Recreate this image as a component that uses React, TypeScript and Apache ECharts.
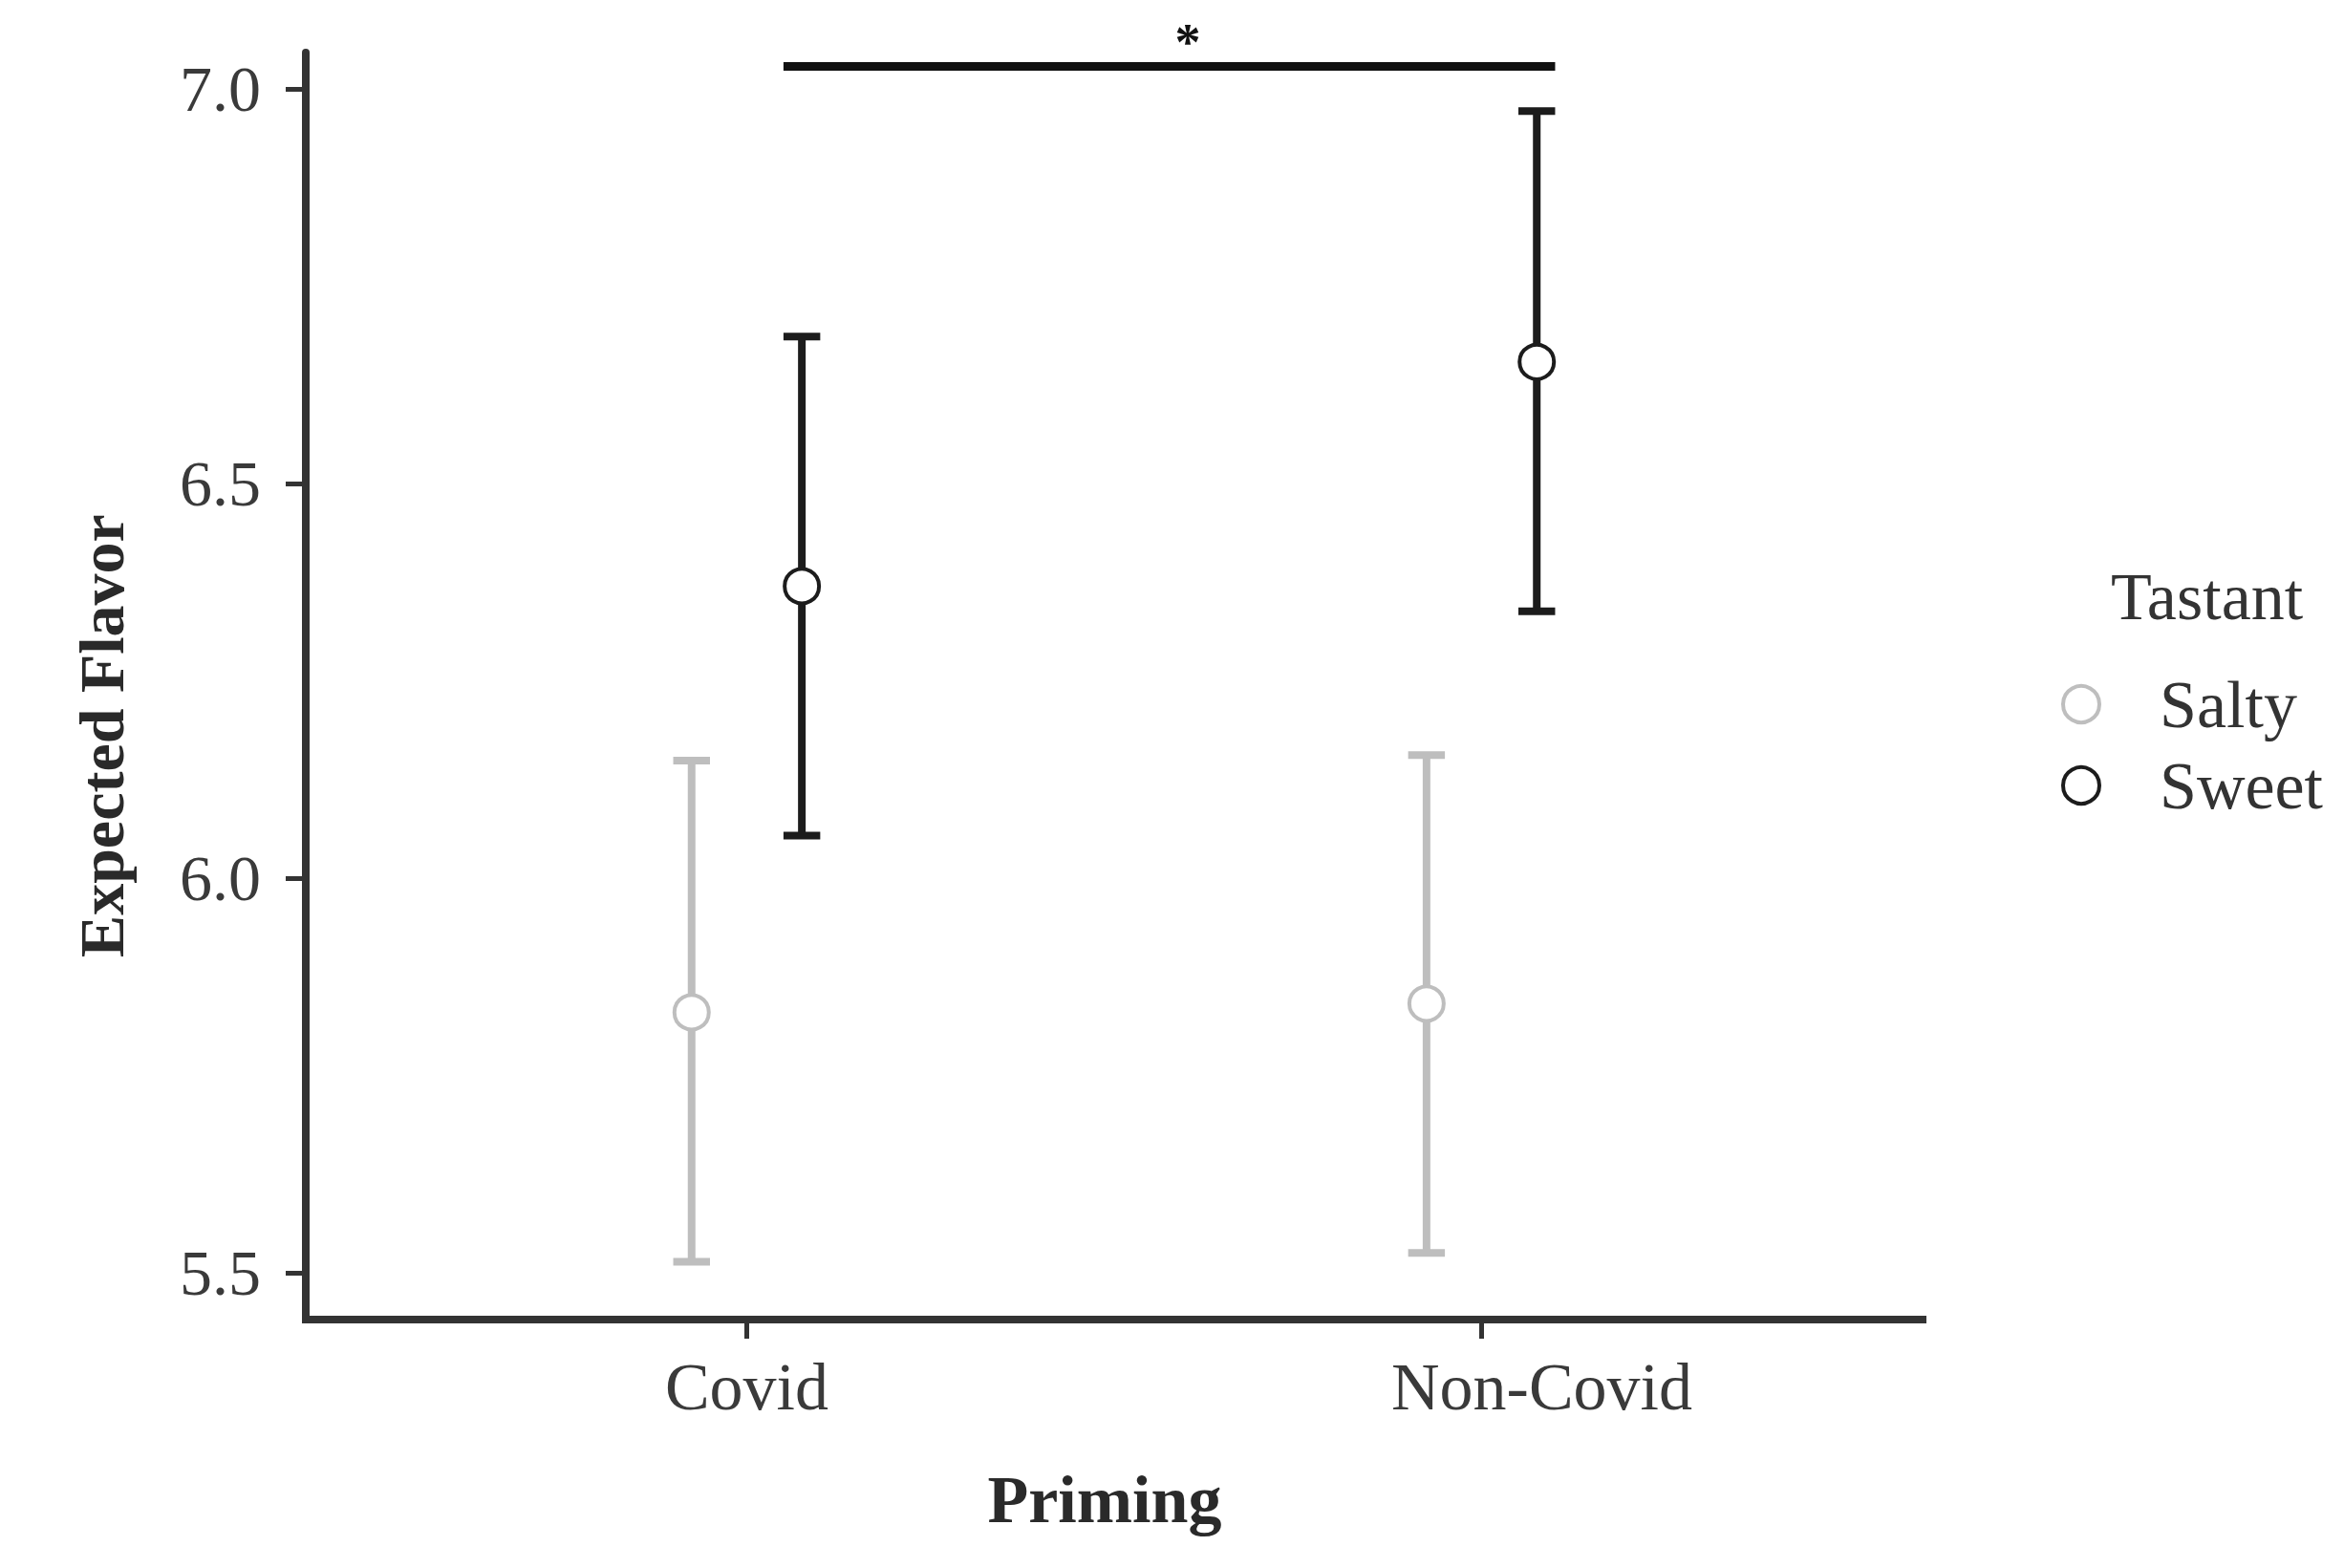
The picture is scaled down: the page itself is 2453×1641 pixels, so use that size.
import React, { useEffect, useRef } from "react";
import * as echarts from "echarts";

const categories = ["Covid", "Non-Covid"];
const tastants = ["Salty", "Sweet"];
const saltyMean = [5.83, 5.841];
const saltyLow = [5.514, 5.525];
const saltyHigh = [6.149, 6.156];
const sweetMean = [6.37, 6.654];
const sweetLow = [6.054, 6.338];
const sweetHigh = [6.686, 6.972];
const yTicks = [5.5, 6.0, 6.5, 7.0];
const sigFrom = 1.05;
const sigTo = 2.1;
const sigValue = 7.0285;
const sigLabel = "*";
const sigLabelAt = 1.6;

const FONT = '"Liberation Serif", "Times New Roman", serif';
const SALTY = "#bebebe";
const SWEET = "#1c1c1c";
const AXIS = "#333333";
const DODGE = 0.075;
const CAP = 0.025;

function errorSeries(name: string, means: number[], lows: number[], highs: number[], offset: number, color: string) {
  return {
    name,
    type: "custom",
    z: 2,
    clip: false,
    encode: { x: 0, y: [1, 2] },
    data: means.map((_, i) => [i + 1 + offset, lows[i], highs[i]]),
    renderItem: (params: any, api: any) => {
      const x = api.value(0);
      const lo = api.value(1);
      const hi = api.value(2);
      const pLo = api.coord([x, lo]);
      const pHi = api.coord([x, hi]);
      const l = api.coord([x - CAP, lo])[0];
      const r = api.coord([x + CAP, lo])[0];
      const st = { stroke: color, lineWidth: 8, lineCap: "butt" };
      return {
        type: "group",
        children: [
          { type: "line", shape: { x1: pLo[0], y1: pLo[1], x2: pHi[0], y2: pHi[1] }, style: st },
          { type: "line", shape: { x1: l, y1: pHi[1], x2: r, y2: pHi[1] }, style: st },
          { type: "line", shape: { x1: l, y1: pLo[1], x2: r, y2: pLo[1] }, style: st },
        ],
      };
    },
  };
}

function pointSeries(name: string, means: number[], offset: number, color: string) {
  return {
    name,
    type: "scatter",
    z: 3,
    symbol: "circle",
    symbolSize: 36,
    itemStyle: { color: "#ffffff", borderColor: color, borderWidth: 4, opacity: 1 },
    data: means.map((m, i) => [i + 1 + offset, m]),
  };
}

export default function App() {
  const ref = useRef<HTMLDivElement>(null);
  useEffect(() => {
    if (!ref.current) return;
    const chart = echarts.init(ref.current, undefined, { renderer: "svg" });
    const option: any = {
      animation: false,
      backgroundColor: "#ffffff",
      grid: { left: 320, right: 441, top: 55, bottom: 260, containLabel: false },
      xAxis: {
        type: "value",
        min: 0.4,
        max: 2.6,
        splitLine: { show: false },
        axisLine: { show: true, lineStyle: { color: AXIS, width: 8, cap: "square" } },
        axisTick: { show: true, length: 20, lineStyle: { color: AXIS, width: 5 }, customValues: [1, 2] },
        axisLabel: {
          customValues: [1, 2],
          formatter: (v: number) => {
            const i = Math.round(v) - 1;
            const name = categories[i] ?? "";
            return i === 1 ? "{shift|" + name + "}" : "{plain|" + name + "}";
          },
          margin: 35,
          fontFamily: FONT,
          fontSize: 70,
          lineHeight: 70,
          color: "#3a3a3a",
          rich: {
            plain: { fontFamily: FONT, fontSize: 70, lineHeight: 70, color: "#3a3a3a" },
            shift: { fontFamily: FONT, fontSize: 70, lineHeight: 70, color: "#3a3a3a", padding: [0, 0, 0, 126] },
          },
        },
      },
      yAxis: {
        type: "value",
        min: 5.4407,
        max: 7.046,
        splitLine: { show: false },
        axisLine: { show: true, lineStyle: { color: AXIS, width: 8 } },
        axisTick: { show: true, length: 21, lineStyle: { color: AXIS, width: 5 }, customValues: yTicks },
        axisLabel: {
          customValues: yTicks,
          formatter: (v: number) => v.toFixed(1),
          margin: 47,
          fontFamily: FONT,
          fontSize: 68,
          color: "#3a3a3a",
        },
      },
      legend: {
        orient: "vertical",
        left: 2152,
        top: 697,
        itemWidth: 38,
        itemHeight: 38,
        itemGap: 15,
        icon: "circle",
        selectedMode: false,
        data: [
          { name: tastants[0], itemStyle: { color: "#ffffff", borderColor: SALTY, borderWidth: 4 } },
          { name: tastants[1], itemStyle: { color: "#ffffff", borderColor: SWEET, borderWidth: 4 } },
        ],
        textStyle: { fontFamily: FONT, fontSize: 70, color: "#333333", padding: [0, 0, 0, 58] },
      },
      graphic: [
        {
          type: "text",
          x: 2209,
          y: 624,
          style: { text: "Tastant", fontFamily: FONT, fontSize: 70, fill: "#333333", align: "left", verticalAlign: "middle" },
        },
        {
          type: "text",
          x: 1156,
          y: 1569,
          style: { text: "Priming", fontFamily: FONT, fontSize: 70, fontWeight: "bold", fill: "#2a2a2a", align: "center", verticalAlign: "middle" },
        },
        {
          type: "text",
          x: 106,
          y: 770,
          rotation: Math.PI / 2,
          style: { text: "Expected Flavor", fontFamily: FONT, fontSize: 66, fontWeight: "bold", fill: "#2a2a2a", align: "center", verticalAlign: "middle" },
        },
      ],
      series: [
        errorSeries(tastants[0], saltyMean, saltyLow, saltyHigh, -DODGE, SALTY),
        errorSeries(tastants[1], sweetMean, sweetLow, sweetHigh, DODGE, SWEET),
        pointSeries(tastants[0], saltyMean, -DODGE, SALTY),
        pointSeries(tastants[1], sweetMean, DODGE, SWEET),
        {
          name: "significance",
          type: "custom",
          z: 4,
          clip: false,
          encode: { x: [0, 1], y: 2 },
          data: [[sigFrom, sigTo, sigValue, sigLabelAt]],
          renderItem: (params: any, api: any) => {
            const a = api.coord([api.value(0), api.value(2)]);
            const b = api.coord([api.value(1), api.value(2)]);
            const s = api.coord([api.value(3), api.value(2)]);
            return {
              type: "group",
              children: [
                { type: "line", shape: { x1: a[0], y1: a[1], x2: b[0], y2: b[1] }, style: { stroke: "#111111", lineWidth: 9 } },
                {
                  type: "text",
                  x: s[0],
                  y: s[1] - 25,
                  style: { text: sigLabel, fontFamily: FONT, fontSize: 54, fontWeight: "bold", fill: "#111111", align: "center", verticalAlign: "middle" },
                },
              ],
            };
          },
        },
      ],
    };
    chart.setOption(option);
    return () => chart.dispose();
  }, []);
  return <div ref={ref} style={{ position: "absolute", left: 0, top: 0, width: 2453, height: 1641 }} />;
}
